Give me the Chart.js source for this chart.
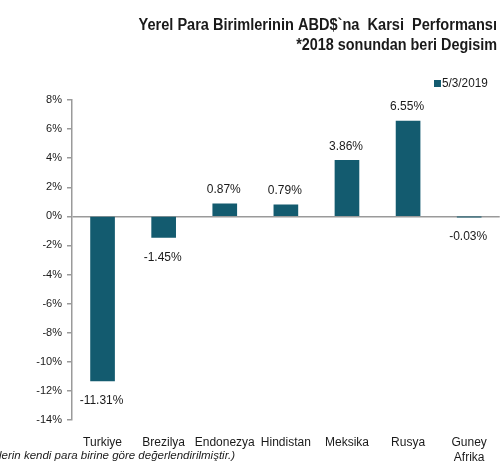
<!DOCTYPE html>
<html>
<head>
<meta charset="utf-8">
<script src="https://cdn.jsdelivr.net/npm/chart.js@4.4.1/dist/chart.umd.min.js"></script>
<style>
  html, body { margin: 0; padding: 0; background: #fff; }
  #wrap { position: relative; width: 502px; height: 461px; }
</style>
</head>
<body>
<div id="wrap"><canvas id="c" width="502" height="461"></canvas></div>
<script>
'use strict';

// ── データ ─────────────────────────────────────────────
const CATEGORIES = ['Turkiye', 'Brezilya', 'Endonezya', 'Hindistan', 'Meksika', 'Rusya', ['Guney', 'Afrika']];
const VALUES     = [-11.31, -1.45, 0.87, 0.79, 3.86, 6.55, -0.03];
const SERIES     = '5/3/2019';
const TITLE      = ['Yerel Para Birimlerinin ABD$`na  Karsi  Performansı', '*2018 sonundan beri Degisim'];
const FOOTNOTE   = 'lerin kendi para birine göre değerlendirilmiştir.)';

const BAR  = '#135b6f';
const AXIS = '#9a9a9a';
const INK  = '#1a1a1a';
const FONT = "'Liberation Sans', Arial, sans-serif";

// 横方向に詰めた文字（Arial Narrow 風）
function narrowText(ctx, text, x, y, sx) {
  ctx.save();
  ctx.translate(x, y);
  ctx.scale(sx, 1);
  ctx.fillText(text, 0, 0);
  ctx.restore();
}

// タイトル・凡例・ラベル・脚注
const decor = {
  id: 'decor',
  afterDatasetsDraw(chart) {
    const { ctx } = chart;
    ctx.save();
    ctx.fillStyle = INK;
    ctx.textAlign = 'right';
    ctx.textBaseline = 'middle';
    ctx.font = `bold 16px ${FONT}`;
    narrowText(ctx, TITLE[0], 497, 26, 0.91);
    narrowText(ctx, TITLE[1], 497, 46, 0.9);

    // 凡例
    ctx.fillStyle = BAR;
    ctx.fillRect(434, 80, 7, 7);
    ctx.fillStyle = INK;
    ctx.textAlign = 'left';
    ctx.font = `12px ${FONT}`;
    narrowText(ctx, SERIES, 442, 84, 0.98);

    // 値ラベル
    ctx.font = `12px ${FONT}`;
    ctx.textAlign = 'center';
    const meta = chart.getDatasetMeta(0);
    meta.data.forEach((bar, i) => {
      const v = VALUES[i];
      const y = v >= 0 ? bar.y - 14 : bar.y + 20;
      ctx.fillText(v.toFixed(2) + '%', bar.x - 1, y);
    });

    // 脚注
    ctx.textAlign = 'left';
    ctx.font = `italic 11.5px ${FONT}`;
    ctx.fillText(FOOTNOTE, -1, 456);
    ctx.restore();
  }
};

new Chart(document.getElementById('c').getContext('2d'), {
  type: 'bar',
  data: {
    labels: CATEGORIES,
    datasets: [{ label: SERIES, data: VALUES, backgroundColor: BAR, barThickness: 24 }],
  },
  options: {
    responsive: false, animation: false,
    layout: { padding: { top: 100, left: 0, right: 2, bottom: 0 } },
    plugins: { legend: { display: false }, tooltip: { enabled: false } },
    scales: {
      x: {
        afterFit: s => { s.height = 41; },
        grid: { display: false, drawTicks: false },
        border: { display: false },
        ticks: { color: INK, font: { size: 12, family: FONT, lineHeight: 1.25 }, padding: 15, maxRotation: 0, autoSkip: false },
      },
      y: {
        min: -14, max: 8,
        afterFit: s => { s.width = 72; },
        grid: {
          color: c => (c.tick && c.tick.value === 0 ? AXIS : 'transparent'),
          tickColor: AXIS, tickLength: 5, lineWidth: 1.5,
        },
        border: { display: true, color: AXIS, width: 1.5 },
        ticks: { stepSize: 2, padding: 5, color: INK, font: { size: 11, family: FONT }, callback: v => v + '%' },
      },
    },
  },
  plugins: [decor],
});
</script>
</body>
</html>
